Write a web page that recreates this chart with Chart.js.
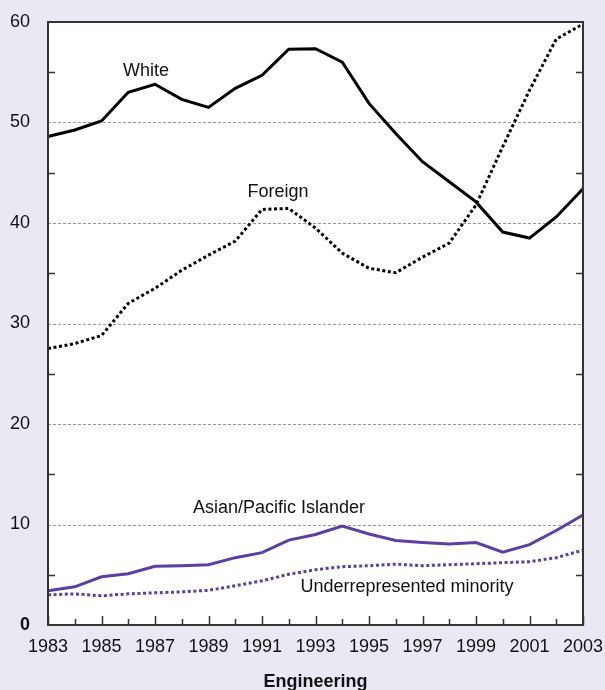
<!DOCTYPE html>
<html>
<head>
<meta charset="utf-8">
<script src="https://cdn.jsdelivr.net/npm/chart.js@4/dist/chart.umd.min.js"></script>
<style>
  html, body { margin: 0; padding: 0; background: #ebe8f3; }
  #wrap { width: 605px; height: 690px; position: relative; }
  canvas { display: block; }
</style>
</head>
<body>
<div id="wrap"><canvas id="c" width="605" height="690"></canvas></div>
<script>
// ---- data ----
const years = [1983,1984,1985,1986,1987,1988,1989,1990,1991,1992,1993,1994,1995,1996,1997,1998,1999,2000,2001,2002,2003];
const white = [48.6,49.25,50.15,53.0,53.8,52.3,51.5,53.4,54.7,57.3,57.35,56.0,51.9,48.9,46.1,44.1,42.1,39.1,38.5,40.6,43.4];
const foreign = [27.5,28.0,28.8,32.0,33.5,35.3,36.8,38.2,41.35,41.45,39.5,37.0,35.5,35.05,36.6,38.0,41.8,47.6,53.2,58.3,59.8];
const asianPacific = [3.4,3.8,4.8,5.1,5.85,5.9,6.0,6.7,7.2,8.45,9.0,9.85,9.05,8.4,8.2,8.05,8.2,7.25,8.0,9.4,10.95];
const underrepresented = [3.0,3.1,2.9,3.1,3.2,3.3,3.45,3.9,4.4,5.05,5.5,5.8,5.9,6.05,5.9,6.0,6.1,6.2,6.3,6.7,7.45];
const seriesNames = ['White','Foreign','Asian/Pacific Islander','Underrepresented minority'];
const yMin = 0, yMax = 60, yStep = 10;
const xTitle = 'Engineering';

// ---- styles ----
const FONT = '"Liberation Sans", Arial, Helvetica, sans-serif';
const BG = '#ebe8f3';
const PURPLE = '#5b3fa3';
const INK = '#111111';
const FRAME = '#333333';

const bgPlugin = {
  id: 'bg',
  beforeDraw(chart) {
    const {ctx, chartArea: a} = chart;
    ctx.save();
    ctx.fillStyle = BG;
    ctx.fillRect(0, 0, chart.width, chart.height);
    ctx.fillStyle = '#ffffff';
    ctx.fillRect(a.left, a.top, a.right - a.left, a.bottom - a.top);
    const y = chart.scales.y;
    ctx.strokeStyle = '#9a9a9a';
    ctx.lineWidth = 1;
    ctx.setLineDash([3, 2]);
    for (let v = yMin + yStep; v < yMax; v += yStep) {
      const py = Math.round(y.getPixelForValue(v)) + 0.5;
      ctx.beginPath();
      ctx.moveTo(a.left, py);
      ctx.lineTo(a.right, py);
      ctx.stroke();
    }
    ctx.restore();
  }
};

const framePlugin = {
  id: 'frame',
  afterDatasetsDraw(chart) {
    const {ctx, chartArea: a} = chart;
    const x = chart.scales.x, y = chart.scales.y;
    ctx.save();
    ctx.strokeStyle = FRAME;
    ctx.setLineDash([]);
    ctx.lineWidth = 1.5;
    years.forEach((yr, i) => {
      const px = Math.round(x.getPixelForValue(i)) + 0.5;
      const len = (yr % 2 === 1) ? 9 : 6;
      ctx.beginPath();
      ctx.moveTo(px, a.bottom);
      ctx.lineTo(px, a.bottom - len);
      ctx.stroke();
    });
    for (let v = yMin + yStep / 2; v < yMax; v += yStep) {
      const py = Math.round(y.getPixelForValue(v)) + 0.5;
      ctx.beginPath();
      ctx.moveTo(a.left, py); ctx.lineTo(a.left + 7, py);
      ctx.moveTo(a.right, py); ctx.lineTo(a.right - 7, py);
      ctx.stroke();
    }
    ctx.lineWidth = 2;
    ctx.strokeRect(a.left, a.top, a.right - a.left, a.bottom - a.top);

    ctx.fillStyle = INK;
    ctx.font = '18px ' + FONT;
    ctx.textAlign = 'center';
    ctx.textBaseline = 'middle';
    ctx.fillText(seriesNames[0], 146, 71);
    ctx.fillText(seriesNames[1], 278, 192);
    ctx.fillText(seriesNames[2], 279, 508);
    ctx.fillText(seriesNames[3], 407, 587);

    ctx.font = 'bold 18px ' + FONT;
    ctx.fillText(xTitle, (a.left + a.right) / 2, 682);
    ctx.restore();
  }
};

const solid = (data, color) => ({
  data, borderColor: color, borderWidth: 3, pointRadius: 0, tension: 0,
  borderJoinStyle: 'miter', borderCapStyle: 'butt', fill: false
});
const dotted = (data, color) => ({
  data, borderColor: color, borderWidth: 3, pointRadius: 0, tension: 0,
  borderDash: [3, 2.6], borderCapStyle: 'butt', fill: false
});

new Chart(document.getElementById('c'), {
  type: 'line',
  data: {
    labels: years,
    datasets: [
      solid(white, '#000000'),
      dotted(foreign, '#000000'),
      solid(asianPacific, PURPLE),
      dotted(underrepresented, PURPLE)
    ]
  },
  options: {
    responsive: false,
    animation: false,
    devicePixelRatio: 1,
    layout: { padding: { top: 22, right: 22, left: 0, bottom: 0 } },
    plugins: { legend: { display: false }, tooltip: { enabled: false } },
    scales: {
      x: {
        type: 'category',
        offset: false,
        grid: { display: false, drawTicks: false },
        border: { display: false },
        ticks: {
          autoSkip: false, maxRotation: 0, minRotation: 0, padding: 11,
          color: INK, font: { family: FONT, size: 18 },
          callback: (v, i) => (years[i] % 2 === 1 ? String(years[i]) : '')
        },
        afterFit: s => { s.height = 65; s.paddingLeft = 0; s.paddingRight = 0; }
      },
      y: {
        min: yMin, max: yMax,
        grid: { display: false, drawTicks: false },
        border: { display: false },
        ticks: {
          stepSize: yStep, padding: 18, color: INK,
          font: ctx => ({ family: FONT, size: 18, weight: (ctx.tick && ctx.tick.value === 0) ? 'bold' : 'normal' })
        },
        afterFit: s => { s.width = 48; s.paddingTop = 0; s.paddingBottom = 0; }
      }
    }
  },
  plugins: [bgPlugin, framePlugin]
});
</script>
</body>
</html>
